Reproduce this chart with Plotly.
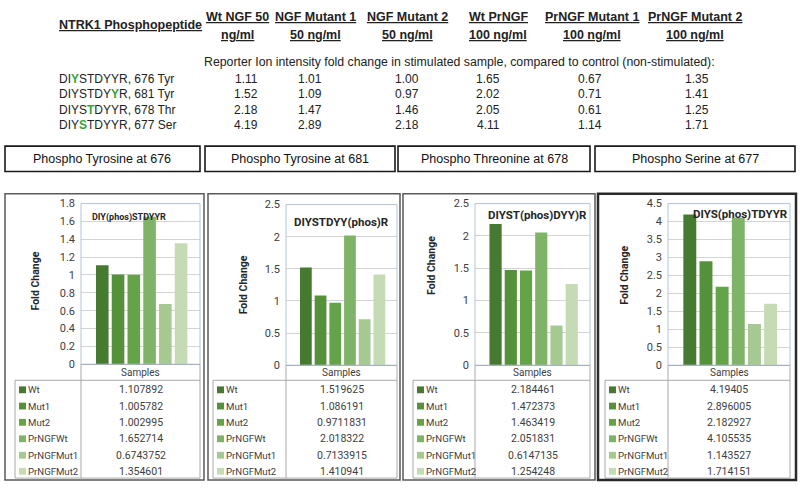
import plotly.graph_objects as go

# ---------------- data ----------------
SERIES = ["Wt", "Mut1", "Mut2", "PrNGFWt", "PrNGFMut1", "PrNGFMut2"]
PANEL_HEADERS = ["Phospho Tyrosine at 676", "Phospho Tyrosine at 681",
                 "Phospho Threonine at 678", "Phospho Serine at 677"]
PANEL_TITLES = ["DIY(phos)STDYYR", "DIYSTDYY(phos)R", "DIYST(phos)DYY)R", "DIYS(phos)TDYYR"]
FOLD_676 = [1.107892, 1.005782, 1.002995, 1.652714, 0.6743752, 1.354601]
FOLD_681 = [1.519625, 1.086191, 0.9711831, 2.018322, 0.7133915, 1.410941]
FOLD_678 = [2.184461, 1.472373, 1.463419, 2.051831, 0.6147135, 1.254248]
FOLD_677 = [4.19405, 2.896005, 2.182927, 4.105535, 1.143527, 1.714151]
PANEL_VALUES = [FOLD_676, FOLD_681, FOLD_678, FOLD_677]
PANEL_YMAX = [1.8, 2.5, 2.5, 4.5]
PANEL_DTICK = [0.2, 0.5, 0.5, 0.5]

TABLE_HEADER = "NTRK1 Phosphopeptide"
COLUMN_HEADERS_1 = ["Wt NGF 50", "NGF Mutant 1", "NGF Mutant 2",
                    "Wt PrNGF", "PrNGF Mutant 1", "PrNGF Mutant 2"]
COLUMN_HEADERS_2 = ["ng/ml", "50 ng/ml", "50 ng/ml", "100 ng/ml", "100 ng/ml", "100 ng/ml"]
SUBTITLE = "Reporter Ion intensity fold change in stimulated sample, compared to control (non-stimulated):"
PEPTIDE_SEQ = ["DIYSTDYYR", "DIYSTDYYR", "DIYSTDYYR", "DIYSTDYYR"]
PEPTIDE_SITE = [", 676 Tyr", ", 681 Tyr", ", 678 Thr", ", 677 Ser"]
PHOSPHO_INDEX = [2, 7, 4, 3]
SUMMARY_676 = [1.11, 1.01, 1.00, 1.65, 0.67, 1.35]
SUMMARY_681 = [1.52, 1.09, 0.97, 2.02, 0.71, 1.41]
SUMMARY_678 = [2.18, 1.47, 1.46, 2.05, 0.61, 1.25]
SUMMARY_677 = [4.19, 2.89, 2.18, 4.11, 1.14, 1.71]
SUMMARY_ROWS = [SUMMARY_676, SUMMARY_681, SUMMARY_678, SUMMARY_677]

# ---------------- styling / layout ----------------
W, H = 800, 489
COLORS = ["#467a30", "#55913a", "#64a347", "#7fb468", "#a5c991", "#c4dbb4"]
GREEN = "#3aa33a"
ARIAL = "Liberation Sans, Arial, sans-serif"
CHART = "Roboto, Lato, sans-serif"
TXT = "#404040"

def X(px):
    return px / W

def Y(py):
    return 1 - py / H

PANELS = [
    dict(outer=(5, 193, 204, 487), pl=81, pr=200, top=203, zero=368, tl=15,
         title=(129, 217, 9), fc=(35, 283), box=(5, 200), lw=1.5, lc="#5a5a5a"),
    dict(outer=(208, 193, 400, 487), pl=286, pr=397, top=204, zero=369, tl=213,
         title=(341, 222, 11.5), fc=(243, 287), box=(205, 395), lw=1.5, lc="#5a5a5a"),
    dict(outer=(403, 193, 595, 487), pl=475, pr=590, top=203, zero=369, tl=413,
         title=(537, 215, 11.5), fc=(432, 267), box=(398, 590), lw=1.5, lc="#5a5a5a"),
    dict(outer=(598, 193, 796, 487), pl=668, pr=790, top=203, zero=369, tl=605,
         title=(740, 214, 11.5), fc=(625, 277), box=(595, 795), lw=2.5, lc="#2a2a2a"),
]
ROW_Y = [394.3, 411, 427.7, 444.6, 461.5, 478]
HEADER_X = [237, 315.5, 407, 498, 591.5, 695]
VALUE_X = [246, 310, 407, 488, 590, 697]
ROWS_TOP_Y = [74.5, 90.5, 106.5, 122.5]

fig = go.Figure()
shapes = []
annotations = []
layout_axes = {}

for i, p in enumerate(PANELS):
    n = i + 1
    xa = "x" if n == 1 else f"x{n}"
    ya = "y" if n == 1 else f"y{n}"
    fig.add_trace(go.Bar(
        x=SERIES, y=PANEL_VALUES[i], marker=dict(color=COLORS, line=dict(width=0)),
        width=0.8, xaxis=xa, yaxis=ya, showlegend=False, hoverinfo="x+y"))
    xkey = "xaxis" if n == 1 else f"xaxis{n}"
    ykey = "yaxis" if n == 1 else f"yaxis{n}"
    layout_axes[xkey] = dict(domain=[X(p["pl"]), X(p["pr"])], anchor=ya,
                             range=[-1.35, 6.2], showticklabels=False, ticks="",
                             showgrid=False, zeroline=False, showline=True,
                             linecolor="#8a8a8a", linewidth=1, fixedrange=True)
    layout_axes[ykey] = dict(domain=[Y(p["zero"]), Y(p["top"])], anchor=xa,
                             range=[0, PANEL_YMAX[i]], dtick=PANEL_DTICK[i],
                             showgrid=True, gridcolor="#d4d4d4", gridwidth=1,
                             zeroline=False, showline=False, ticks="",
                             tickfont=dict(family=CHART, size=11, color=TXT),
                             ticklabelstandoff=5, fixedrange=True)
    # plot area border
    shapes.append(dict(type="rect", xref="paper", yref="paper",
                       x0=X(p["pl"]), x1=X(p["pr"]), y0=Y(p["zero"]), y1=Y(p["top"]),
                       line=dict(color="#b4c3d3", width=1), layer="above"))
    # data table lines
    tbl = dict(color="#a8a8a8", width=1)
    shapes.append(dict(type="line", xref="paper", yref="paper",
                       x0=X(p["pl"]), x1=X(p["pl"]), y0=Y(p["zero"]), y1=Y(485), line=tbl))
    shapes.append(dict(type="line", xref="paper", yref="paper",
                       x0=X(p["pr"]), x1=X(p["pr"]), y0=Y(p["zero"]), y1=Y(485), line=tbl))
    shapes.append(dict(type="line", xref="paper", yref="paper",
                       x0=X(p["tl"]), x1=X(p["pr"]), y0=Y(384.5), y1=Y(384.5), line=tbl))
    shapes.append(dict(type="line", xref="paper", yref="paper",
                       x0=X(p["tl"]), x1=X(p["pr"]), y0=Y(485), y1=Y(485), line=tbl))
    shapes.append(dict(type="line", xref="paper", yref="paper",
                       x0=X(p["tl"]), x1=X(p["tl"]), y0=Y(384.5), y1=Y(485), line=tbl))
    # outer panel border
    ox0, oy0, ox1, oy1 = p["outer"]
    shapes.append(dict(type="rect", xref="paper", yref="paper",
                       x0=X(ox0), x1=X(ox1), y0=Y(oy1), y1=Y(oy0),
                       line=dict(color=p["lc"], width=p["lw"])))
    # header box
    bx0, bx1 = p["box"]
    shapes.append(dict(type="rect", xref="paper", yref="paper",
                       x0=X(bx0), x1=X(bx1), y0=Y(170), y1=Y(144),
                       line=dict(color="#1a1a1a", width=1.6)))
    annotations.append(dict(xref="paper", yref="paper", x=X((bx0 + bx1) / 2), y=Y(157.5),
                            text=PANEL_HEADERS[i], showarrow=False, xanchor="center",
                            yanchor="middle", font=dict(family=ARIAL, size=12.5, color="#111")))
    # chart title
    tx, ty, ts = p["title"]
    annotations.append(dict(xref="paper", yref="paper", x=X(tx), y=Y(ty),
                            text="<b>" + PANEL_TITLES[i] + "</b>", showarrow=False,
                            xanchor="center", yanchor="middle",
                            font=dict(family=CHART, size=ts, color="#262626")))
    # Fold Change axis title
    fx, fy = p["fc"]
    annotations.append(dict(xref="paper", yref="paper", x=X(fx), y=Y(fy),
                            text="<b>Fold Change</b>", showarrow=False, textangle=-90,
                            xanchor="center", yanchor="middle",
                            font=dict(family=CHART, size=10.5, color="#262626")))
    # Samples header
    cx = (p["pl"] + p["pr"]) / 2
    annotations.append(dict(xref="paper", yref="paper", x=X(cx), y=Y(377),
                            text="Samples", showarrow=False, xanchor="center",
                            yanchor="middle", font=dict(family=CHART, size=10, color=TXT)))
    # table rows
    for r, name in enumerate(SERIES):
        ry = ROW_Y[r]
        sx = p["tl"] + 4
        shapes.append(dict(type="rect", xref="paper", yref="paper",
                           x0=X(sx), x1=X(sx + 7), y0=Y(ry + 3.5), y1=Y(ry - 3.5),
                           fillcolor=COLORS[r], line=dict(width=0)))
        annotations.append(dict(xref="paper", yref="paper", x=X(sx + 6.5), y=Y(ry),
                                text=name, showarrow=False, xanchor="left", yanchor="middle",
                                font=dict(family=CHART, size=9.6, color=TXT)))
        annotations.append(dict(xref="paper", yref="paper", x=X(cx), y=Y(ry),
                                text=str(PANEL_VALUES[i][r]), showarrow=False,
                                xanchor="center", yanchor="middle",
                                font=dict(family=CHART, size=10.5, color=TXT)))

# ---------------- top summary table ----------------
annotations.append(dict(xref="paper", yref="paper", x=X(57), y=Y(20), text="<b>" + TABLE_HEADER + "</b>",
                        showarrow=False, xanchor="left", yanchor="middle",
                        font=dict(family=ARIAL, size=12.5, color="#222", lineposition="under")))
for c in range(6):
    for line_text, ly in ((COLUMN_HEADERS_1[c], 11), (COLUMN_HEADERS_2[c], 29.5)):
        annotations.append(dict(xref="paper", yref="paper", x=X(HEADER_X[c]), y=Y(ly),
                                text="<b>" + line_text + "</b>", showarrow=False,
                                xanchor="center", yanchor="middle",
                                font=dict(family=ARIAL, size=12.5, color="#222",
                                          lineposition="under")))
annotations.append(dict(xref="paper", yref="paper", x=X(202), y=Y(58), text=SUBTITLE,
                        showarrow=False, xanchor="left", yanchor="middle",
                        font=dict(family=ARIAL, size=12.3, color="#222")))
for r in range(4):
    seq = PEPTIDE_SEQ[r]
    k = PHOSPHO_INDEX[r]
    label = (seq[:k] + f"<span style='color:{GREEN}'><b>" + seq[k] + "</b></span>"
             + seq[k + 1:] + PEPTIDE_SITE[r])
    annotations.append(dict(xref="paper", yref="paper", x=X(57), y=Y(ROWS_TOP_Y[r]), text=label,
                            showarrow=False, xanchor="left", yanchor="middle",
                            font=dict(family=ARIAL, size=12, color="#222")))
    for c in range(6):
        annotations.append(dict(xref="paper", yref="paper", x=X(VALUE_X[c]), y=Y(ROWS_TOP_Y[r]),
                                text=f"{SUMMARY_ROWS[r][c]:.2f}", showarrow=False,
                                xanchor="center", yanchor="middle",
                                font=dict(family=ARIAL, size=12, color="#222")))

fig.update_layout(width=W, height=H, margin=dict(l=0, r=0, t=0, b=0),
                  paper_bgcolor="white", plot_bgcolor="white",
                  bargap=0.2, shapes=shapes, annotations=annotations, **layout_axes)
fig.write_html("out.html", config={"displayModeBar": False},
               post_script="document.body.style.margin='0px';document.body.style.padding='0px';")
